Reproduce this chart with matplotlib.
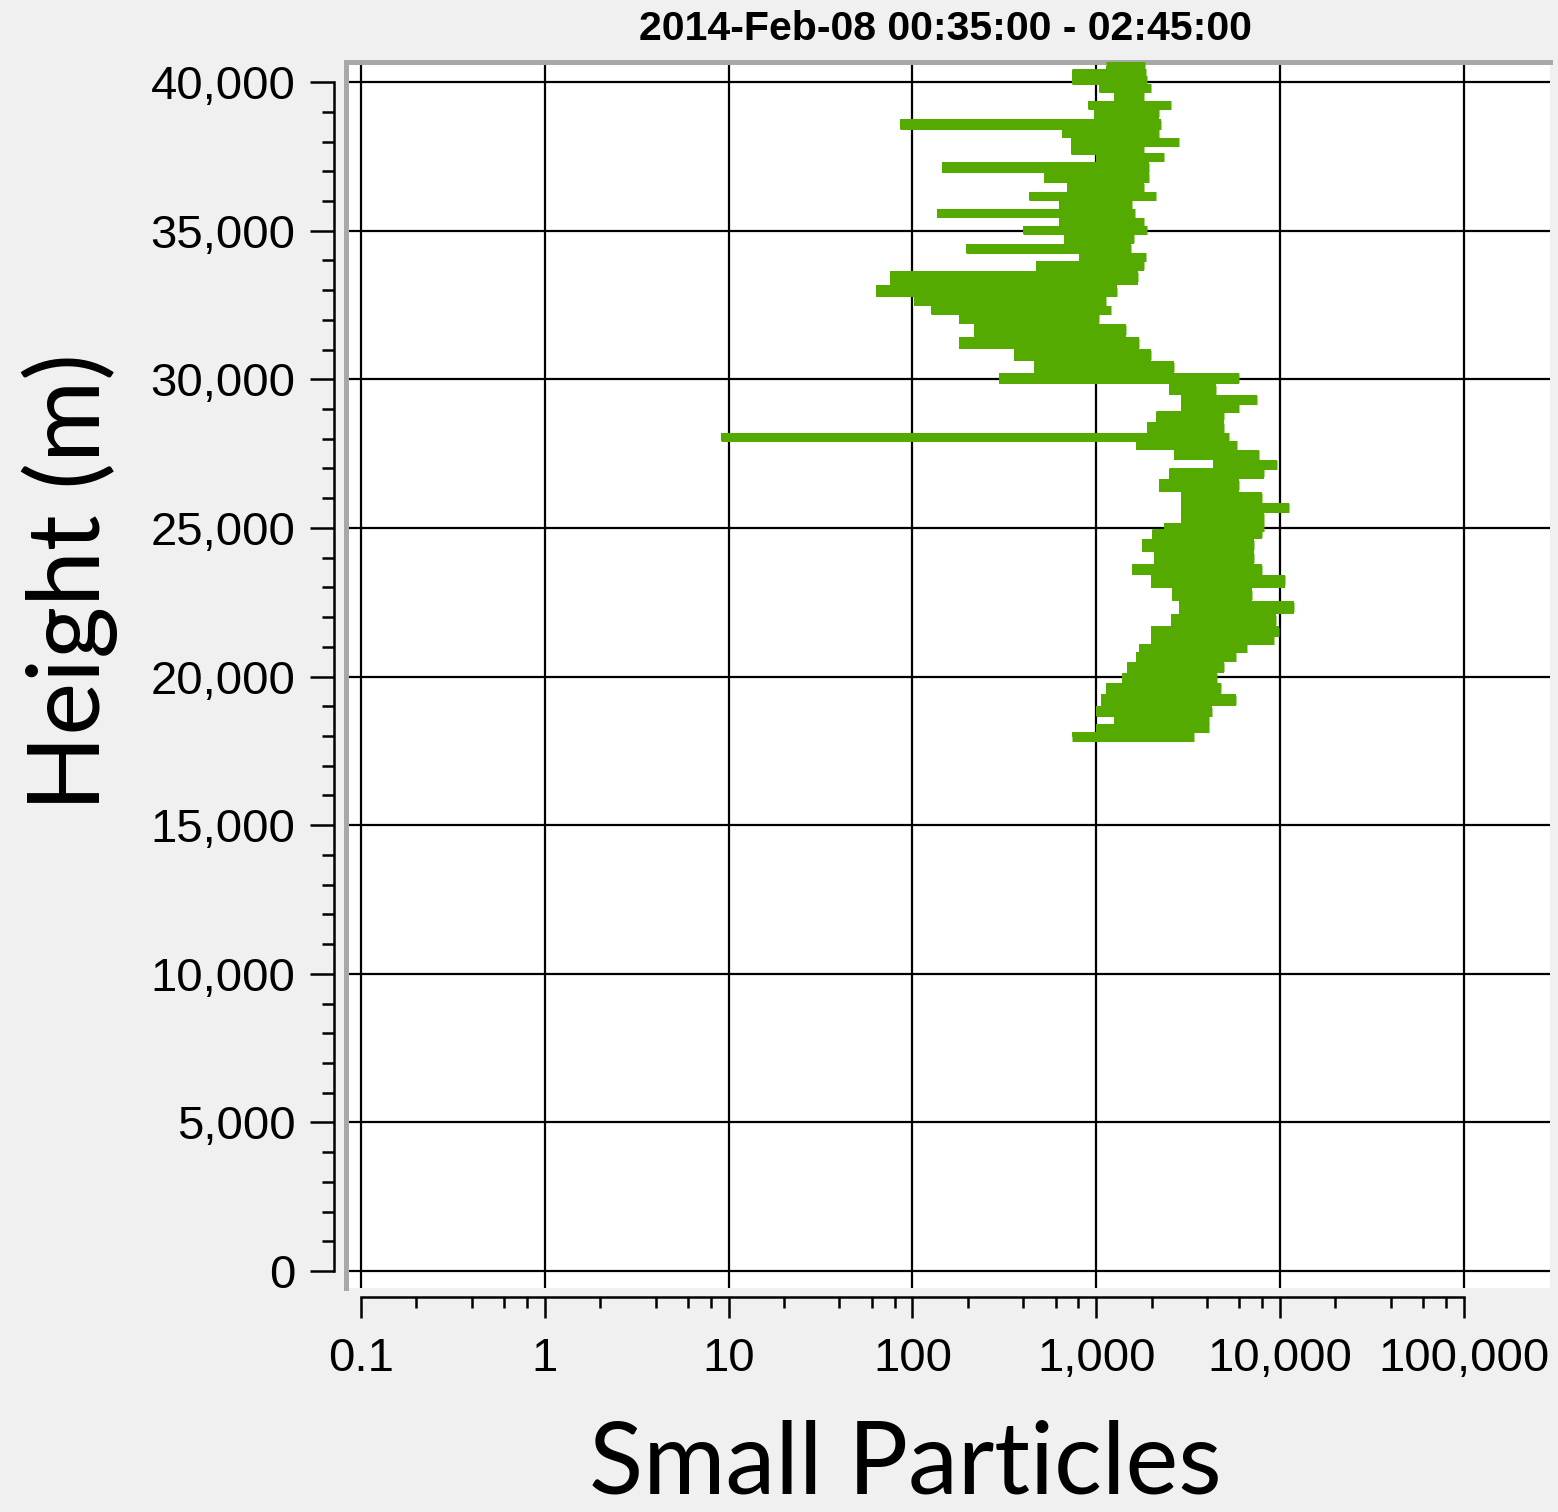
import numpy as np
import matplotlib
matplotlib.use("Agg")
import matplotlib.pyplot as plt
from matplotlib.ticker import FixedLocator, MultipleLocator, FuncFormatter, NullFormatter

# Perfil de particulas pequenas: para cada altura, valor minimo y maximo leidos
altura = [40540, 40300, 40070, 39800, 39500, 39230, 38990, 38550, 38280, 37980,
          37710, 37480, 37110, 36770, 36430, 36160, 35900, 35590, 35290, 35020,
          34750, 34380, 34110, 33840, 33440, 32930, 32630, 32330, 32060, 31660,
          31220, 30810, 30410, 30040, 29640, 29300, 29030, 28800, 28360, 28060,
          27790, 27450, 27110, 26880, 26440, 26000, 25670, 25330, 25030, 24830,
          24420, 23990, 23580, 23250, 22740, 22340, 21900, 21500, 21230, 20960,
          20660, 20320, 19950, 19610, 19210, 18800, 18540, 18270, 17970]
minimo = [1133, 740, 740, 1040, 1250, 900, 975, 85, 650, 730,
          730, 990, 145, 520, 690, 430, 630, 136, 630, 400,
          670, 196, 810, 470, 75, 63, 102, 126, 178, 217,
          178, 358, 460, 297, 2500, 2900, 2900, 2120, 1895, 9.1,
          1650, 2650, 4300, 2500, 2200, 2900, 2900, 2900, 2340, 2000,
          1780, 2070, 1570, 1990, 2590, 2830, 2557, 1990, 1990, 1713,
          1650, 1474, 1385, 1133, 1065, 1000, 1253, 1000, 740]
maximo = [1850, 1870, 1895, 1990, 1825, 2560, 2200, 2260, 2200, 2830,
          1825, 2340, 1940, 1940, 1825, 2120, 1570, 1630, 1825, 1895,
          1610, 1550, 1870, 1825, 1690, 1300, 1133, 1207, 1040, 1456,
          1700, 1990, 2650, 6000, 4500, 7500, 6000, 4970, 4970, 5290,
          5850, 7700, 9620, 8190, 6000, 7990, 11160, 8190, 8190, 7990,
          7240, 7240, 7990, 10620, 7000, 11870, 9500, 9860, 9270, 6625,
          5780, 4970, 4553, 4786, 5780, 4278, 4120, 4120, 3412]

ticks_x = [0.1, 1, 10, 100, 1000, 10000, 100000]
titulo = "2014-Feb-08 00:35:00 - 02:45:00"
verde = "#55aa00"
fondo = "#f0f0f0"

fig = plt.figure(figsize=(15.58, 15.12), dpi=100, facecolor=fondo)
ax = fig.add_axes([0.2221, 0.1481, 0.7728, 0.8108])
ax.set_facecolor("white")

ax.set_xscale("log")
ax.set_xlim(0.0829, 294000)
ax.set_ylim(-572, 40670)

# relleno escalonado y barras horizontales
ax.fill_betweenx(altura, minimo, maximo, step="mid", color=verde,
                 linewidth=0, zorder=3)
ax.hlines(altura, minimo, maximo, color=verde, linewidth=6.5, zorder=3)

# rejilla
ax.grid(which="major", color="black", linewidth=1.6, zorder=1)
ax.set_axisbelow(True)

# ejes
menores = [m * d for d in ticks_x[:-1] for m in (2, 4, 6, 8)]
ax.xaxis.set_major_locator(FixedLocator(ticks_x))
ax.xaxis.set_minor_locator(FixedLocator(menores))
ax.xaxis.set_minor_formatter(NullFormatter())
ax.xaxis.set_major_formatter(FuncFormatter(lambda v, p: f"{v:,g}"))
ax.yaxis.set_major_locator(MultipleLocator(5000))
ax.yaxis.set_minor_locator(MultipleLocator(1000))
ax.yaxis.set_major_formatter(FuncFormatter(lambda v, p: f"{v:,.0f}"))

ax.spines["right"].set_visible(False)
ax.spines["top"].set_color("#a8a8a8")
ax.spines["top"].set_linewidth(3.6)
ax.spines["left"].set_position(("outward", 8.6))
ax.spines["left"].set_bounds(0, 40000)
ax.spines["left"].set_linewidth(1.8)
ax.spines["bottom"].set_position(("outward", 6.5))
ax.spines["bottom"].set_bounds(0.1, 100000)
ax.spines["bottom"].set_linewidth(1.8)
# borde gris a la izquierda del area blanca
ax.plot([0, 0], [0, 1], transform=ax.transAxes, color="#a8a8a8",
        linewidth=3.6, clip_on=False, zorder=5)

ax.tick_params(axis="y", which="major", length=17, width=1.8, pad=10.8,
               labelsize=34)
ax.tick_params(axis="y", which="minor", length=8.6, width=1.8)
ax.tick_params(axis="x", which="major", length=15, width=1.8, pad=14,
               labelsize=34)
ax.tick_params(axis="x", which="minor", length=8, width=1.8)
for lab in ax.get_xticklabels() + ax.get_yticklabels():
    lab.set_family("Liberation Sans")

fig.text(0.607, 0.981, titulo, ha="center", va="center", fontsize=29.5,
         fontweight="bold", family="Liberation Sans")
fig.text(0.045, 0.615, "Height (m)", rotation=90, ha="center", va="center",
         fontsize=72, family="Lato")
fig.text(0.581, 0.001, "Small Particles", ha="center", va="bottom",
         fontsize=72, family="Lato")

fig.savefig("out.png", dpi=100, facecolor=fondo)
